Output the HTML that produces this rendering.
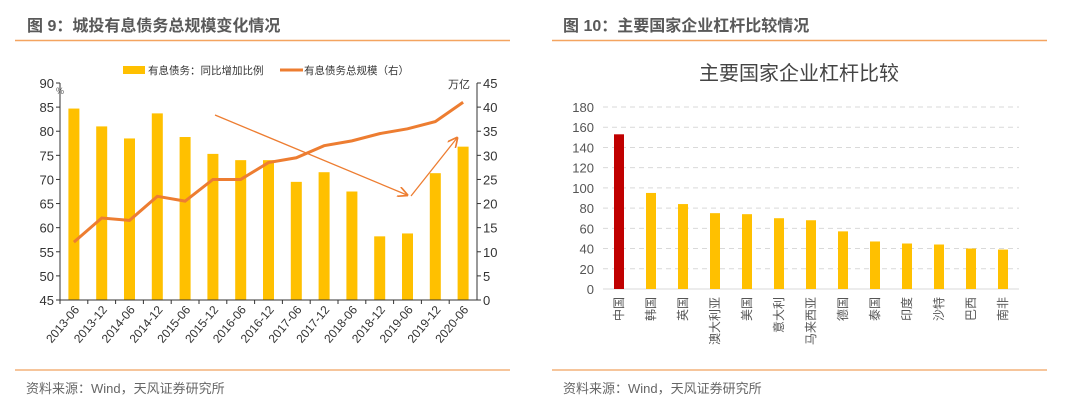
<!DOCTYPE html>
<html><head><meta charset="utf-8"><style>
body{margin:0;background:#fff;width:1080px;height:408px;overflow:hidden;font-family:"Liberation Sans","Noto Sans CJK SC",sans-serif}
svg text{font-family:"Liberation Sans","Noto Sans CJK SC",sans-serif}
</style></head><body>
<svg id="s" width="1080" height="408" xmlns="http://www.w3.org/2000/svg">
<text x="27" y="31" font-size="16" font-weight="bold" fill="#595959">图 9：城投有息债务总规模变化情况</text>
<line x1="15" y1="40.5" x2="510" y2="40.5" stroke="#f4a460" stroke-width="1.5"/>
<line x1="15" y1="370" x2="510" y2="370" stroke="#f4b27a" stroke-width="1.5"/>
<text x="26" y="393" font-size="13" fill="#666">资料来源：Wind，天风证券研究所</text>
<text x="563" y="31" font-size="16" font-weight="bold" fill="#595959">图 10：主要国家企业杠杆比较情况</text>
<line x1="552" y1="40.5" x2="1047" y2="40.5" stroke="#f4a460" stroke-width="1.5"/>
<line x1="552" y1="370" x2="1047" y2="370" stroke="#f4b27a" stroke-width="1.5"/>
<text x="563" y="393" font-size="13" fill="#666">资料来源：Wind，天风证券研究所</text>
<g id="c1"></g>
<g id="c2"></g>
</svg>
<script>
const cats1=["2013-06","2013-12","2014-06","2014-12","2015-06","2015-12","2016-06","2016-12","2017-06","2017-12","2018-06","2018-12","2019-06","2019-12","2020-06"];
const growth=[84.7,81,78.5,83.7,78.8,75.3,74,74,69.5,71.5,67.5,58.2,58.8,71.3,76.8];
const total=[12,17,16.5,21.5,20.5,25,25,28.5,29.5,32,33,34.5,35.5,37,41];
const leftTicks=[45,50,55,60,65,70,75,80,85,90];
const rightTicks=[0,5,10,15,20,25,30,35,40,45];
const cats2=["中国","韩国","英国","澳大利亚","美国","意大利","马来西亚","德国","泰国","印度","沙特","巴西","南非"];
const leverage=[153,95,84,75,74,70,68,57,47,45,44,40,39];
const ticks2=[0,20,40,60,80,100,120,140,160,180];

const NS="http://www.w3.org/2000/svg";
function mk(p,tag,a,txt){const e=document.createElementNS(NS,tag);for(const k in a)e.setAttribute(k,a[k]);if(txt!==undefined)e.textContent=txt;p.appendChild(e);return e;}

// chart 1
const c1=document.getElementById('c1');
const X0=60,X1=477,Y0=300,Y1=83;
const bw=(X1-X0)/cats1.length;
const yL=v=>Y0-(v-45)/45*(Y0-Y1);
const yR=v=>Y0-v/45*(Y0-Y1);
const xc=i=>X0+bw*(i+0.5);
leftTicks.forEach(t=>{
 const e=mk(c1,'text',{x:X0-6,y:yL(t)+5,'font-size':13,fill:'#333','text-anchor':'end'},t);
 
 
 mk(c1,'line',{x1:X0-4,x2:X0,y1:yL(t),y2:yL(t),stroke:'#333'});
});
rightTicks.forEach(t=>{
 const e=mk(c1,'text',{x:X1+6,y:yR(t)+5,'font-size':13,fill:'#333'},t);
 
 
 mk(c1,'line',{x1:X1,x2:X1+4,y1:yR(t),y2:yR(t),stroke:'#333'});
});
mk(c1,'text',{x:56,y:94,'font-size':9,fill:'#666'},'%');
const uy=mk(c1,'text',{x:448,y:88,'font-size':11,fill:'#333'},'万亿');


growth.forEach((v,i)=>{
 const r=mk(c1,'rect',{x:xc(i)-5.5,y:yL(v),width:11,height:Y0-yL(v),fill:'#ffc000'});
 
 
});
mk(c1,'line',{x1:X0,x2:X0,y1:Y1,y2:Y0,stroke:'#333'});
mk(c1,'line',{x1:X1,x2:X1,y1:Y1,y2:Y0,stroke:'#333'});
mk(c1,'line',{x1:X0,x2:X1,y1:Y0,y2:Y0,stroke:'#333'});
cats1.forEach((c,i)=>{
 mk(c1,'line',{x1:X0+bw*i,x2:X0+bw*i,y1:Y0,y2:Y0+4,stroke:'#333'});
 const t=mk(c1,'text',{x:xc(i)+6,y:Y0+10,'font-size':12,fill:'#333','text-anchor':'end',transform:`rotate(-50 ${xc(i)+6} ${Y0+10})`},c);
 
 
});
const ln=mk(c1,'polyline',{points:total.map((v,i)=>xc(i)+','+yR(v)).join(' '),fill:'none',stroke:'#ed7d31','stroke-width':3});


// annotation arrows
mk(c1,'defs',{}).innerHTML='<marker id="ah" markerWidth="8" markerHeight="8" refX="7" refY="4" orient="auto"><path d="M0,0 L8,4 L0,8" fill="none" stroke="#ed7d31" stroke-width="1.3"/></marker>';
const a1=mk(c1,'line',{x1:215,y1:115,x2:407,y2:195,stroke:'#ed7d31','stroke-width':1.3,'marker-end':'url(#ah)'});


const a2=mk(c1,'line',{x1:411,y1:196,x2:457,y2:138,stroke:'#ed7d31','stroke-width':1.3,'marker-end':'url(#ah)'});


// legend
const lg=mk(c1,'g',{});


mk(lg,'rect',{x:123,y:66,width:22,height:8,fill:'#ffc000'});
mk(lg,'text',{x:148,y:74,'font-size':10.5,fill:'#333'},'有息债务：同比增加比例');
mk(lg,'line',{x1:280,x2:303,y1:70,y2:70,stroke:'#ed7d31','stroke-width':3});
mk(lg,'text',{x:304,y:74,'font-size':10.5,fill:'#333'},'有息债务总规模（右）');

// chart 2
const c2=document.getElementById('c2');
const P0=603,P1=1019,B0=289,B1=107;
const pw=(P1-P0)/cats2.length;
const yv=v=>B0-v/180*(B0-B1);
const px=i=>P0+pw*(i+0.5);
const tt=mk(c2,'text',{x:799,y:80,'font-size':20,fill:'#444','text-anchor':'middle'},'主要国家企业杠杆比较');


ticks2.forEach(t=>{
 if(t>0)mk(c2,'line',{x1:P0,x2:P1,y1:yv(t),y2:yv(t),stroke:'#d9d9d9','stroke-dasharray':'5,4'});
 const e=mk(c2,'text',{x:594,y:yv(t)+5,'font-size':13,fill:'#555','text-anchor':'end'},t);
 
 
});
mk(c2,'line',{x1:P0,x2:P1,y1:B0,y2:B0,stroke:'#d9d9d9'});
leverage.forEach((v,i)=>{
 const r=mk(c2,'rect',{x:px(i)-5,y:yv(v),width:10,height:B0-yv(v),fill:i===0?'#c00000':'#ffc000'});
 
 
 const t=mk(c2,'text',{x:px(i)+4,y:B0+8,'font-size':12,fill:'#555',transform:`rotate(-90 ${px(i)+4} ${B0+8})`,'text-anchor':'end'},cats2[i]);
 
 
});
</script>
</body></html>
